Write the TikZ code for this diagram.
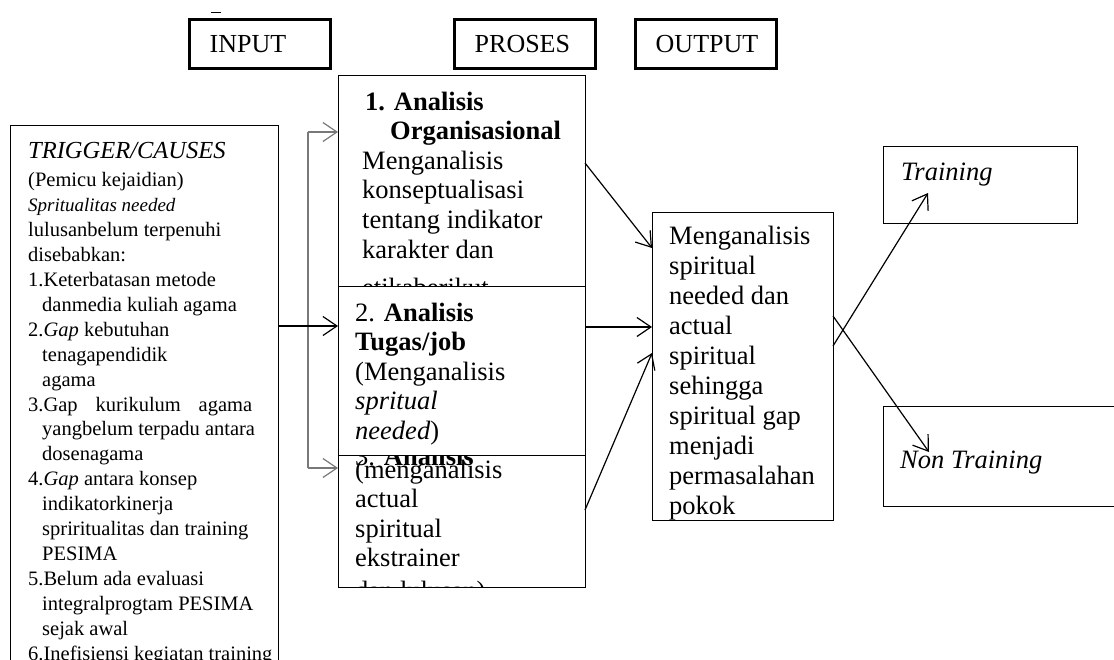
\documentclass[tikz,border=0pt]{standalone}
\usepackage{fontspec}
\setmainfont{Liberation Serif}
\usetikzlibrary{arrows.meta}
\newcommand\boxfont{\fontsize{26.5}{29.6}\selectfont}
\newcommand\leftfont{\fontsize{20.5}{24.9}\selectfont}
\definecolor{linegray}{RGB}{120,120,120}
\begin{document}
\begin{tikzpicture}[x=1pt,y=-1pt,
  bx/.style={draw, line width=1.2pt, fill=white, inner sep=0pt, anchor=north west},
  ttl/.style={draw, line width=2.8pt, inner xsep=20pt, inner ysep=0pt, minimum height=48.4pt,
              text width=101pt, align=left, anchor=north west, font=\fontsize{26}{30}\selectfont},
  txt/.style={inner sep=0pt, anchor=base west},
  arr/.style={line width=1.2pt, -{Straight Barb[length=14pt,width=19pt]}}]
\useasboundingbox (0,0) rectangle (1114,659);

% header
\draw[line width=0.8pt] (211,12) -- (221,12);
\node[ttl] (tin) at (188.3,18.3) {INPUT};
\node[ttl] (tpro) at (453.3,18.3) {PROSES};
\node[ttl] (tout) at (634.3,18.3) {OUTPUT};

% left box
\node[bx, minimum width=268pt, minimum height=620pt] (trig) at (10,125) {};
\node[txt] (trigt) at (28,158) {\parbox[t]{245pt}{\leftfont\raggedright
{\fontsize{24.5}{24.9}\selectfont\textit{TRIGGER/CAUSES}}\\[4pt]
(Pemicu kejaidian)\\
{\fontsize{19}{24.9}\selectfont\textit{Spritualitas needed}}\\
lulusanbelum terpenuhi\\
disebabkan:\\
1.Keterbatasan metode\\
\hspace*{14pt}danmedia kuliah agama\\
2.\textit{Gap} kebutuhan\\
\hspace*{14pt}tenagapendidik\\
\hspace*{14pt}agama\\
\makebox[224pt][s]{3.Gap kurikulum agama}\\
\hspace*{14pt}yangbelum terpadu antara\\
\hspace*{14pt}dosenagama\\
4.\textit{Gap} antara konsep\\
\hspace*{14pt}indikatorkinerja\\
\hspace*{14pt}spriritualitas dan training\\
\hspace*{14pt}PESIMA\\
5.Belum ada evaluasi\\
\hspace*{14pt}integralprogtam PESIMA\\
\hspace*{14pt}sejak awal\\
6.Inefisiensi kegiatan training}};

% process boxes
\node[bx, minimum width=247pt, minimum height=211pt] (b1) at (338,75) {};
\node[txt] (b1t) at (362,110) {\parbox[t]{215pt}{\boxfont\raggedright
\hspace*{3pt}\textbf{1. Analisis}\\
\hspace*{28pt}\textbf{Organisasional}\\
Menganalisis\\
konseptualisasi\\
tentang indikator\\
karakter dan\\[9pt]
etikaberikut}};

\node[bx, minimum width=247pt, minimum height=132pt] (b3) at (338,455) {};
\begin{scope}
\clip (330,430) rectangle (590,586.3);
\node[txt] (b3a) at (355,465) {\boxfont 3. \textbf{Analisis}};
\node[txt] (b3t) at (355,478) {\parbox[t]{215pt}{\boxfont\raggedright
(menganalisis\\
actual\\
spiritual\\
ekstrainer\\[3pt]
dan lulusan)}};
\end{scope}

\node[bx, minimum width=247pt, minimum height=169pt] (b2) at (338,286) {};
\node[txt] (b2t) at (355,321) {\parbox[t]{215pt}{\boxfont\raggedright
2. \textbf{Analisis}\\
\textbf{Tugas/job}\\
(Menganalisis\\
\textit{spritual}\\
\textit{needed})}};

% output box
\node[bx, minimum width=181pt, minimum height=308pt] (b5) at (652,212) {};
\node[txt] (b5t) at (669,244) {\parbox[t]{160pt}{\fontsize{26.5}{30}\selectfont\raggedright
Menganalisis\\
spiritual\\
needed dan\\
actual\\
spiritual\\
sehingga\\
spiritual gap\\
menjadi\\
permasalahan\\
pokok}};

% result boxes
\node[bx, minimum width=194pt, minimum height=77pt] (tr) at (883,146) {};
\node[txt, font=\fontsize{26.5}{30}\selectfont\itshape] (trt) at (901,180) {Training};
\node[bx, minimum width=250pt, minimum height=100pt] (nt) at (883,406) {};
\node[txt, font=\fontsize{26.5}{30}\selectfont\itshape] (ntt) at (900,468) {Non Training};

% connectors
\coordinate (g1) at (308,132);
\coordinate (g3) at (308,468);
\coordinate (m0) at (278,326);
\draw[arr, linegray] (g1) -- (b1.west |- g1);
\draw[line width=1.2pt, linegray] (g1) -- (g3);
\draw[arr, linegray] (g3) -- (b3.west |- g3);
\draw[arr] (m0) -- (b2.west |- m0);

\coordinate (r1) at (585,163);
\coordinate (r1e) at (652,248);
\coordinate (r2) at (585,327);
\coordinate (r3) at (585,510);
\coordinate (r3e) at (652,353);
\draw[arr] (r1) -- (r1e);
\draw[arr] (r2) -- (b5.west |- r2);
\draw[arr] (r3) -- (r3e);

\coordinate (o1) at (833,346);
\coordinate (o2) at (833,316);
\coordinate (trtip) at (928,193);
\coordinate (nttip) at (929,452);
\draw[arr] (o1) -- (trtip);
\draw[arr] (o2) -- (nttip);
\end{tikzpicture}
\end{document}
